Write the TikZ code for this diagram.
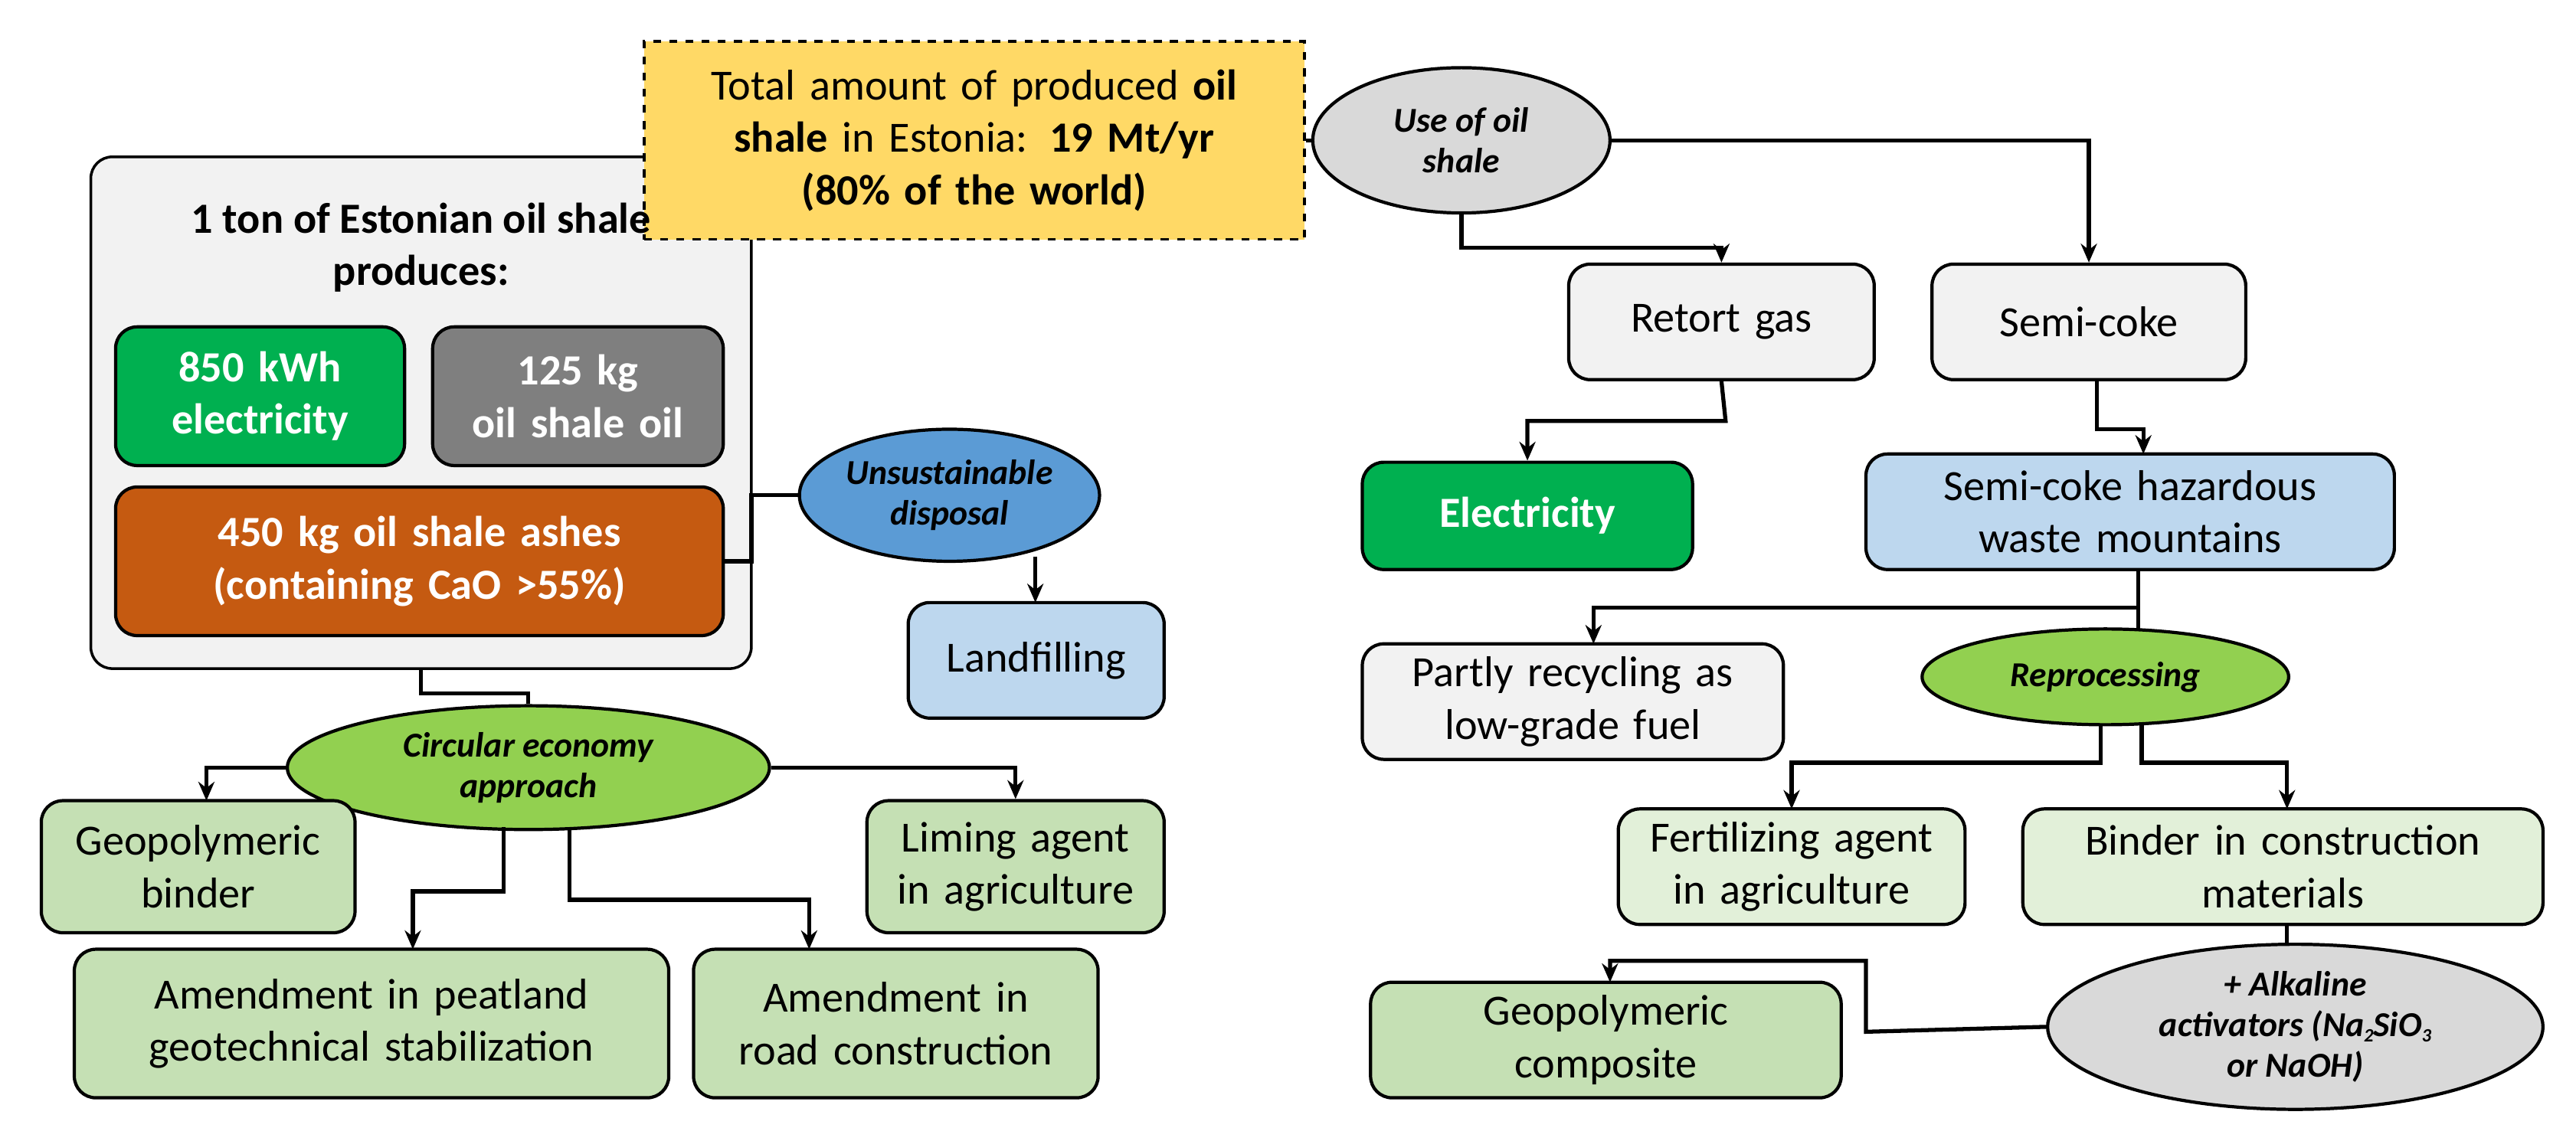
\documentclass[tikz,border=0pt]{standalone}
\usepackage{fontspec}
\setmainfont{Carlito}
\usetikzlibrary{shapes.geometric,arrows.meta}
\definecolor{ygold}{HTML}{FFD966}
\definecolor{lgray}{HTML}{F2F2F2}
\definecolor{mgray}{HTML}{7F7F7F}
\definecolor{egray}{HTML}{D9D9D9}
\definecolor{dgreen}{HTML}{00B050}
\definecolor{orng}{HTML}{C55A11}
\definecolor{blu}{HTML}{5B9BD5}
\definecolor{lblue}{HTML}{BDD7EE}
\definecolor{lgreen}{HTML}{92D050}
\definecolor{pgreen}{HTML}{E2F0D9}
\definecolor{sgreen}{HTML}{C5E0B4}
\newcommand\bx[7]{\node[#6, minimum width={(#4-#2)*0.02156cm}, minimum height={(#5-#3)*0.02156cm}, text width={(#4-#2)*0.02156cm-6pt}] (#1) at ({(#2+#4)/2},{(#3+#5)/2}) {#7};}
\newcommand\el[7]{\node[#6, minimum width={#4*0.02156cm}, minimum height={#5*0.02156cm}] (#1) at (#2,#3) {#7};}
\newcommand\sbs[1]{\raisebox{-0.3ex}{\scriptsize #1}}
\tikzset{
 box/.style={draw=black, line width=1.2pt, rounded corners=8pt, align=center, inner sep=3pt, font=\fontsize{16}{19.5}\selectfont},
 ell/.style={draw=black, line width=1.2pt, ellipse, align=center, inner sep=1pt, font=\fontsize{13}{15}\selectfont\bfseries\itshape},
 ln/.style={line width=1.5pt},
 arr/.style={line width=1.5pt, -{Stealth[length=7pt,width=6pt]}},
}
\begin{document}
\begin{tikzpicture}[x=0.02156cm,y=-0.02156cm]
\useasboundingbox (0,0) rectangle (1560,691);
\bx{big}{55}{95}{455}{405}{box,fill=lgray,line width=1pt}{}
\bx{tot}{390}{25}{790}{145}{box,rounded corners=0pt,fill=ygold,dashed,line width=1pt}{Total amount of produced \textbf{oil}\\\textbf{shale} in Estonia: \textbf{19 Mt/yr}\\\textbf{(80\% of the world)}}
\el{use}{885}{85}{180}{88}{ell,fill=egray}{Use of oil\\shale}
\node[font=\fontsize{16}{19.5}\selectfont\bfseries,align=center] (bigt) at (255,150) {1 ton of Estonian oil shale\\produces:};
\bx{kwh}{70}{198}{245}{282}{box,fill=dgreen,text=white,font=\fontsize{16}{19.5}\selectfont\bfseries}{850 kWh\\electricity}
\bx{oil}{262}{198}{438}{282}{box,fill=mgray,text=white,font=\fontsize{16}{19.5}\selectfont\bfseries}{125 kg\\oil shale oil}
\bx{ash}{70}{295}{438}{385}{box,fill=orng,text=white,font=\fontsize{16}{19.5}\selectfont\bfseries}{450 kg oil shale ashes\\(containing CaO >55\%)}
\el{uns}{575}{300}{172}{80}{ell,fill=blu}{Unsustainable\\disposal}
\bx{land}{550}{365}{705}{435}{box,fill=lblue}{Landfilling}
\bx{ret}{950}{160}{1135}{230}{box,fill=lgray}{Retort gas}
\bx{semi}{1170}{160}{1360}{230}{box,fill=lgray}{Semi-coke}
\bx{elec}{825}{280}{1025}{345}{box,fill=dgreen,text=white,font=\fontsize{16}{19.5}\selectfont\bfseries}{Electricity}
\bx{haz}{1130}{275}{1450}{345}{box,fill=lblue}{Semi-coke hazardous\\waste mountains}
\bx{part}{825}{390}{1080}{460}{box,fill=lgray}{Partly recycling as\\low-grade fuel}
\el{rep}{1275}{410}{222}{58}{ell,fill=lgreen}{Reprocessing}
\bx{fert}{980}{490}{1190}{560}{box,fill=pgreen}{Fertilizing agent\\in agriculture}
\bx{bind}{1225}{490}{1540}{560}{box,fill=pgreen}{Binder in construction\\materials}
\el{alk}{1390}{622}{300}{100}{ell,fill=egray}{+ Alkaline\\activators (Na\sbs{2}SiO\sbs{3}\\or NaOH)}
\bx{geoc}{830}{595}{1115}{665}{box,fill=sgreen}{Geopolymeric\\composite}
\el{circ}{320}{465}{292}{75}{ell,fill=lgreen}{Circular economy\\approach}
\bx{geob}{25}{485}{215}{565}{box,fill=sgreen}{Geopolymeric\\binder}
\bx{lime}{525}{485}{705}{565}{box,fill=sgreen}{Liming agent\\in agriculture}
\bx{peat}{45}{575}{405}{665}{box,fill=sgreen}{Amendment in peatland\\geotechnical stabilization}
\bx{road}{420}{575}{665}{665}{box,fill=sgreen}{Amendment in\\road construction}
% connectors
\coordinate (a1) at (1270,230);
\coordinate (a2) at (1298,275);
\coordinate (h1) at (1295,345);
\coordinate (p1) at (965,390);
\coordinate (r1) at (1272,439);
\coordinate (r2) at (1297,439);
\coordinate (f1) at (1085,490);
\coordinate (b1) at (1385,490);
\coordinate (b2) at (1385,560);
\coordinate (g1) at (975,595);
\coordinate (u1) at (627,337);
\coordinate (l1) at (627,365);
\draw[ln] (tot.east) -- (use.west);
\draw[arr] (use.south) -- (885,150) -| (ret.north);
\draw[arr] (use.east) -| (semi.north);
\draw[arr] (ret.south) -- (1045,255) -| (elec.north);
\draw[arr] (a1) -- (1270,260) -| (a2);
\draw[arr] (h1) -- (1295,368) -| (p1);
\draw[ln] (h1) -- (1295,381);
\draw[arr] (r1) -- (1272,462) -| (f1);
\draw[arr] (r2) -- (1297,462) -| (b1);
\draw[ln] (b2) -- (1385,572);
\draw[arr] (alk.west) -- (1130,625) -- (1130,582) -| (g1);
\draw[ln] (big.south) -- (255,420) -| (circ.north);
\draw[ln] (ash.east) -- (455,340) |- (uns.west);
\draw[arr] (u1) -- (l1);
\draw[arr] (circ.west) -| (125,485);
\draw[arr] (circ.east) -| (lime.north);
\draw[arr] (305,501) -- (305,540) -| (250,575);
\draw[arr] (345,501) -- (345,545) -| (490,575);
\end{tikzpicture}
\end{document}
